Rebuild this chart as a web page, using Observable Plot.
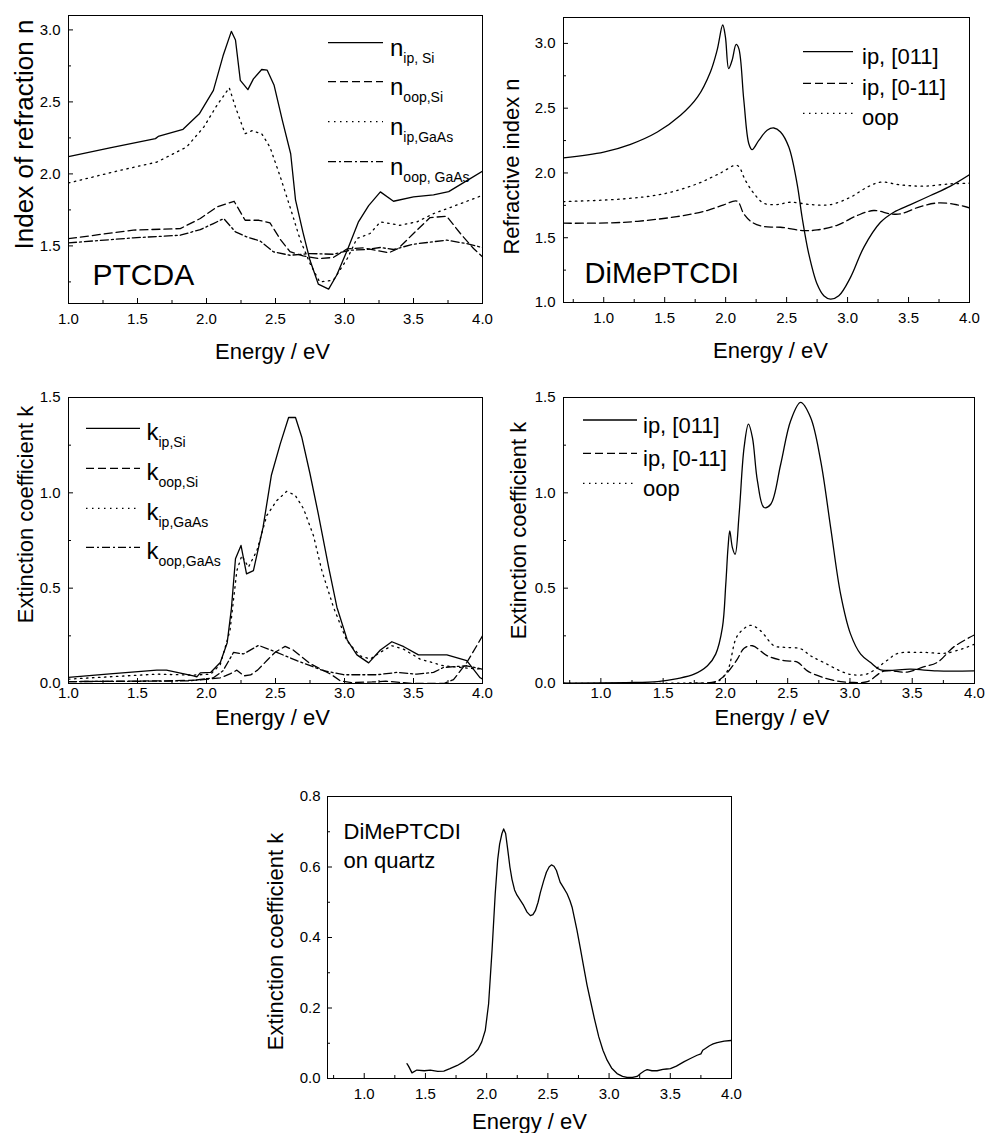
<!DOCTYPE html>
<html><head><meta charset="utf-8">
<script src="https://cdn.jsdelivr.net/npm/d3@7"></script>
<script src="https://cdn.jsdelivr.net/npm/@observablehq/plot@0.6"></script>
<style>
body{margin:0;background:#fff;}
#page{position:relative;width:988px;height:1133px;overflow:hidden;background:#fff;font-family:"Liberation Sans",Arial,sans-serif;}
.panel{position:absolute;}
#overlay{position:absolute;left:0;top:0;pointer-events:none;}
</style></head><body><div id="page"></div>
<script>
// ---------- DATA (energy in eV, value) ----------
// Panel a: PTCDA refractive index
const nIpSi = [[1.0,2.12],[1.3,2.18],[1.63,2.245],[1.65,2.26],[1.83,2.31],[1.95,2.42],[2.05,2.58],[2.12,2.82],[2.18,2.99],[2.21,2.93],[2.245,2.65],[2.30,2.585],[2.34,2.66],[2.40,2.725],[2.44,2.72],[2.49,2.615],[2.55,2.37],[2.61,2.14],[2.645,1.82],[2.70,1.59],[2.75,1.40],[2.81,1.235],[2.885,1.20],[2.945,1.30],[3.02,1.47],[3.10,1.665],[3.175,1.78],[3.26,1.875],[3.355,1.81],[3.5,1.84],[3.645,1.855],[3.755,1.877],[3.89,1.955],[4.0,2.018]];
const nOopSi = [[1.0,1.55],[1.47,1.61],[1.81,1.62],[1.955,1.69],[2.075,1.77],[2.2,1.81],[2.28,1.678],[2.38,1.678],[2.46,1.66],[2.535,1.545],[2.605,1.46],[2.70,1.43],[2.82,1.412],[2.92,1.42],[3.02,1.48],[3.14,1.486],[3.32,1.452],[3.39,1.482],[3.50,1.586],[3.62,1.697],[3.74,1.706],[3.84,1.586],[3.935,1.482],[4.0,1.424]];
const nIpGaAs = [[1.0,1.937],[1.375,2.025],[1.64,2.082],[1.855,2.186],[1.98,2.325],[2.075,2.475],[2.165,2.598],[2.21,2.464],[2.245,2.371],[2.28,2.279],[2.33,2.30],[2.40,2.279],[2.46,2.186],[2.535,1.979],[2.605,1.771],[2.68,1.54],[2.75,1.378],[2.82,1.25],[2.92,1.262],[3.02,1.412],[3.09,1.551],[3.185,1.586],[3.26,1.667],[3.40,1.643],[3.525,1.667],[3.645,1.724],[3.79,1.775],[4.0,1.851]];
const nOopGaAs = [[1.0,1.521],[1.47,1.556],[1.81,1.574],[1.955,1.613],[2.05,1.655],[2.125,1.69],[2.21,1.597],[2.29,1.563],[2.39,1.533],[2.485,1.459],[2.605,1.435],[2.75,1.447],[2.92,1.442],[3.04,1.47],[3.16,1.475],[3.26,1.489],[3.355,1.475],[3.5,1.512],[3.74,1.54],[3.885,1.516],[4.0,1.489]];

// Panel b: DiMePTCDI refractive index
const nIp011 = [[0.67,2.117],[1.0,2.161],[1.22,2.221],[1.44,2.316],[1.63,2.445],[1.77,2.587],[1.875,2.78],[1.93,2.948],[1.976,3.142],[1.998,3.05],[2.025,2.806],[2.053,2.87],[2.086,2.992],[2.108,2.96],[2.149,2.561],[2.19,2.226],[2.217,2.18],[2.272,2.252],[2.34,2.329],[2.395,2.347],[2.45,2.316],[2.518,2.20],[2.586,1.916],[2.627,1.658],[2.682,1.374],[2.75,1.142],[2.805,1.052],[2.86,1.026],[2.928,1.052],[3.024,1.194],[3.133,1.426],[3.27,1.619],[3.379,1.697],[3.516,1.756],[3.68,1.826],[3.844,1.898],[4.0,1.986]];
const nIp0m11 = [[0.67,1.612],[1.164,1.619],[1.60,1.663],[1.848,1.71],[1.985,1.754],[2.094,1.782],[2.149,1.684],[2.217,1.619],[2.313,1.586],[2.45,1.581],[2.64,1.555],[2.75,1.56],[2.914,1.596],[3.078,1.671],[3.215,1.71],[3.352,1.684],[3.434,1.684],[3.598,1.741],[3.748,1.769],[3.899,1.754],[4.0,1.73]];
const nOop = [[0.67,1.779],[1.164,1.80],[1.492,1.839],[1.766,1.916],[1.957,1.999],[2.094,2.058],[2.162,1.942],[2.23,1.844],[2.313,1.766],[2.422,1.756],[2.531,1.774],[2.696,1.756],[2.86,1.756],[3.024,1.813],[3.16,1.89],[3.27,1.929],[3.434,1.908],[3.625,1.898],[3.844,1.916],[4.0,1.921]];

// Panel c: PTCDA extinction coefficient
const kIpSi = [[1.0,0.032],[1.3,0.05],[1.64,0.07],[1.71,0.07],[1.905,0.04],[1.93,0.035],[1.955,0.056],[2.03,0.058],[2.10,0.11],[2.15,0.214],[2.18,0.39],[2.21,0.654],[2.25,0.724],[2.29,0.575],[2.34,0.592],[2.41,0.82],[2.47,1.092],[2.535,1.258],[2.595,1.395],[2.645,1.395],[2.69,1.293],[2.75,1.10],[2.81,0.89],[2.885,0.61],[2.945,0.40],[3.02,0.228],[3.09,0.15],[3.175,0.108],[3.26,0.176],[3.343,0.219],[3.43,0.193],[3.536,0.15],[3.645,0.15],[3.742,0.15],[3.886,0.12],[3.983,0.03],[4.0,0.023]];
const kOopSi = [[1.0,0.01],[1.71,0.014],[1.95,0.018],[2.1,0.03],[2.17,0.05],[2.22,0.07],[2.27,0.04],[2.32,0.045],[2.37,0.07],[2.45,0.13],[2.5,0.165],[2.57,0.195],[2.63,0.175],[2.75,0.105],[2.9,0.049],[2.97,0.014],[3.05,0.005],[3.2,0.008],[3.3,0.012],[3.5,0.0],[3.72,0.0],[3.79,0.02],[3.886,0.11],[3.96,0.2],[4.0,0.25]];
const kIpGaAs = [[1.0,0.023],[1.64,0.049],[1.905,0.044],[2.03,0.049],[2.10,0.10],[2.17,0.277],[2.22,0.592],[2.256,0.671],[2.304,0.61],[2.365,0.697],[2.437,0.881],[2.51,0.96],[2.582,1.008],[2.643,0.987],[2.703,0.917],[2.775,0.776],[2.836,0.592],[2.92,0.40],[3.017,0.224],[3.113,0.145],[3.186,0.128],[3.258,0.163],[3.343,0.198],[3.428,0.18],[3.548,0.128],[3.717,0.093],[3.886,0.081],[4.0,0.075]];
const kOopGaAs = [[1.0,0.01],[1.6,0.012],[1.88,0.014],[2.05,0.03],[2.12,0.067],[2.196,0.163],[2.268,0.155],[2.377,0.2],[2.51,0.163],[2.655,0.12],[2.848,0.067],[2.993,0.046],[3.235,0.046],[3.38,0.058],[3.525,0.049],[3.645,0.058],[3.717,0.084],[3.886,0.093],[4.0,0.075]];

// Panel d: DiMePTCDI extinction coefficient
const kIp011 = [[0.70,0.002],[1.2,0.005],[1.455,0.01],[1.615,0.026],[1.749,0.049],[1.856,0.093],[1.922,0.154],[1.976,0.294],[2.003,0.521],[2.021,0.713],[2.035,0.80],[2.056,0.713],[2.078,0.678],[2.11,0.888],[2.15,1.238],[2.185,1.36],[2.217,1.29],[2.257,1.063],[2.31,0.923],[2.364,0.94],[2.444,1.15],[2.524,1.378],[2.604,1.474],[2.684,1.395],[2.765,1.168],[2.845,0.818],[2.925,0.469],[3.005,0.259],[3.086,0.154],[3.166,0.11],[3.246,0.072],[3.487,0.075],[3.70,0.066],[4.0,0.066]];
const kIp0m11 = [[0.70,0.0],[1.72,0.0],[1.936,0.014],[2.016,0.058],[2.096,0.128],[2.15,0.185],[2.217,0.198],[2.337,0.145],[2.47,0.12],[2.578,0.112],[2.658,0.066],[2.79,0.03],[2.925,0.01],[3.005,0.006],[3.14,0.01],[3.273,0.065],[3.46,0.06],[3.59,0.087],[3.70,0.11],[3.834,0.192],[4.0,0.255]];
const kOop = [[0.70,0.0],[1.72,0.003],[1.936,0.01],[2.016,0.066],[2.096,0.25],[2.203,0.305],[2.283,0.276],[2.39,0.198],[2.47,0.19],[2.604,0.182],[2.684,0.145],[2.79,0.11],[2.95,0.058],[3.032,0.045],[3.14,0.051],[3.30,0.122],[3.38,0.157],[3.59,0.163],[3.78,0.16],[4.0,0.206]];

// Panel e: DiMePTCDI on quartz
const kQuartz = [[1.349,0.042],[1.362,0.035],[1.39,0.016],[1.43,0.024],[1.49,0.022],[1.54,0.024],[1.60,0.02],[1.65,0.021],[1.70,0.028],[1.76,0.037],[1.81,0.047],[1.86,0.06],[1.894,0.069],[1.93,0.083],[1.96,0.104],[1.989,0.137],[2.016,0.212],[2.044,0.363],[2.07,0.524],[2.09,0.62],[2.106,0.665],[2.125,0.695],[2.139,0.708],[2.155,0.695],[2.172,0.65],[2.19,0.6],[2.207,0.565],[2.228,0.535],[2.248,0.52],[2.302,0.491],[2.33,0.472],[2.357,0.462],[2.378,0.465],[2.398,0.476],[2.42,0.5],[2.439,0.528],[2.465,0.56],[2.488,0.585],[2.51,0.6],[2.529,0.606],[2.55,0.602],[2.57,0.59],[2.60,0.557],[2.63,0.54],[2.657,0.524],[2.68,0.505],[2.698,0.486],[2.72,0.45],[2.738,0.42],[2.765,0.37],[2.793,0.316],[2.82,0.265],[2.847,0.222],[2.88,0.17],[2.916,0.118],[2.95,0.08],[2.984,0.052],[3.02,0.03],[3.065,0.014],[3.11,0.006],[3.147,0.003],[3.19,0.003],[3.229,0.006],[3.26,0.015],[3.29,0.022],[3.311,0.025],[3.35,0.022],[3.392,0.022],[3.44,0.026],[3.47,0.027],[3.501,0.028],[3.55,0.035],[3.61,0.047],[3.66,0.056],[3.719,0.066],[3.75,0.07],[3.765,0.08],[3.787,0.085],[3.82,0.093],[3.85,0.098],[3.883,0.102],[3.94,0.106],[4.0,0.108]];

// tick values
const xTicksA = [1.0,1.5,2.0,2.5,3.0,3.5,4.0];
const xMinorA = [1.25,1.75,2.25,2.75,3.25,3.75];
const xTicksB = [1.0,1.5,2.0,2.5,3.0,3.5,4.0];
const xMinorB = [0.75,1.25,1.75,2.25,2.75,3.25,3.75];
const yTicksNa = [1.5,2.0,2.5,3.0];
const yMinorNa = [1.25,1.75,2.25,2.75];
const yTicksNb = [1.0,1.5,2.0,2.5,3.0];
const yMinorNb = [1.25,1.75,2.25,2.75];
const yTicksK = [0.0,0.5,1.0,1.5];
const yMinorK = [0.25,0.75,1.25];
const yTicksQ = [0.0,0.2,0.4,0.6,0.8];
const yMinorQ = [0.1,0.3,0.5,0.7];

// legend labels
const legendA = [["n","ip, Si"],["n","oop,Si"],["n","ip,GaAs"],["n","oop, GaAs"]];
const legendB = ["ip, [011]","ip, [0-11]","oop"];
const legendC = [["k","ip,Si"],["k","oop,Si"],["k","ip,GaAs"],["k","oop,GaAs"]];

// ---------- STYLE ----------
const SOLID = null, DASH = "8,4", DOT = "1.5,4.5", DASHDOT = "8,3,2,3";
const FONT = "'Liberation Sans', Arial, sans-serif";
const TICKFONT = 15;

const page = document.getElementById("page");

function panel(o) {
  const W = o.width, H = o.height;
  const fw = W - o.ml - o.mr, fh = H - o.mt - o.mb;
  const fmt = d3.format(".1f");
  const marks = [];
  for (const s of o.series) {
    marks.push(Plot.line(s.data, {x: d => d[0], y: d => d[1], stroke: "black", strokeWidth: 1.3,
      strokeDasharray: s.dash || undefined, curve: o.curve || "linear", clip: true}));
  }
  marks.push(
    Plot.tickX(o.xMajor, {x: d => d, stroke: "black", insetTop: fh - 5}),
    Plot.tickX(o.xMinor, {x: d => d, stroke: "black", insetTop: fh - 3}),
    Plot.tickY(o.yMajor, {y: d => d, stroke: "black", insetRight: fw - 5}),
    Plot.tickY(o.yMinor, {y: d => d, stroke: "black", insetRight: fw - 3}),
    Plot.axisX(o.xMajor, {tickSize: 0, tickPadding: o.xPad, tickFormat: fmt, label: null, fontSize: TICKFONT}),
    Plot.axisY(o.yMajor, {tickSize: 0, tickPadding: o.yPad, tickFormat: fmt, label: null, fontSize: TICKFONT}),
    Plot.frame({stroke: "black", strokeWidth: 1}),
    Plot.text([o.xTitle], {frameAnchor: "bottom", dx: o.xtDx, dy: o.xtDy, fontSize: 22, lineAnchor: "middle", textAnchor: "middle"}),
    Plot.text([o.yTitle], {frameAnchor: "left", rotate: -90, dx: o.ytDx, dy: o.ytDy, fontSize: o.ytSize || 22, lineAnchor: "middle", textAnchor: "middle"})
  );
  if (o.label) marks.push(Plot.text([o.label], {frameAnchor: o.labelAnchor, dx: o.labelDx, dy: o.labelDy,
    fontSize: o.labelSize, textAnchor: "start", lineAnchor: "top", lineHeight: o.labelLH || 1}));
  const chart = Plot.plot({
    width: W, height: H, marginTop: o.mt, marginRight: o.mr, marginBottom: o.mb, marginLeft: o.ml,
    x: {domain: o.xDomain}, y: {domain: o.yDomain},
    style: {fontFamily: FONT, fontSize: TICKFONT + "px", color: "black", background: "transparent", overflow: "visible"},
    marks
  });
  const div = document.createElement("div");
  div.className = "panel";
  div.style.left = o.left + "px"; div.style.top = o.top + "px";
  div.appendChild(chart);
  page.appendChild(div);
}

panel({left: 0, top: 0, width: 490, height: 365, mt: 15, mr: 8, mb: 62, ml: 68,
  xDomain: [1, 4], yDomain: [1.1, 3.1], xMajor: xTicksA, xMinor: xMinorA, yMajor: yTicksNa, yMinor: yMinorNa,
  xPad: 10, yPad: 8, curve: "linear",
  series: [{data: nIpSi, dash: SOLID}, {data: nOopSi, dash: DASH}, {data: nIpGaAs, dash: DOT}, {data: nOopGaAs, dash: DASHDOT}],
  xTitle: "Energy / eV", xtDx: -3, xtDy: 48,
  yTitle: "Index of refraction n", ytDx: -43.5, ytDy: -25, ytSize: 26,
  label: "PTCDA", labelAnchor: "bottom-left", labelDx: 24, labelDy: -40, labelSize: 30});

panel({left: 490, top: 0, width: 498, height: 365, mt: 17, mr: 19, mb: 63, ml: 73,
  xDomain: [0.67, 4], yDomain: [1.0, 3.2], xMajor: xTicksB, xMinor: xMinorB, yMajor: yTicksNb, yMinor: yMinorNb,
  xPad: 10, yPad: 8, curve: "catmull-rom",
  series: [{data: nIp011, dash: SOLID}, {data: nIp0m11, dash: DASH}, {data: nOop, dash: DOT}],
  xTitle: "Energy / eV", xtDx: 4, xtDy: 48,
  yTitle: "Refractive index n", ytDx: -52, ytDy: 6.5,
  label: "DiMePTCDI", labelAnchor: "bottom-left", labelDx: 21, labelDy: -40, labelSize: 29});

panel({left: 0, top: 380, width: 490, height: 360, mt: 17, mr: 8, mb: 57, ml: 68,
  xDomain: [1, 4], yDomain: [0, 1.5], xMajor: xTicksA, xMinor: xMinorA, yMajor: yTicksK, yMinor: yMinorK,
  xPad: 4, yPad: 8, curve: "linear",
  series: [{data: kIpSi, dash: SOLID}, {data: kOopSi, dash: DASH}, {data: kIpGaAs, dash: DOT}, {data: kOopGaAs, dash: DASHDOT}],
  xTitle: "Energy / eV", xtDx: -3, xtDy: 34,
  yTitle: "Extinction coefficient k", ytDx: -43, ytDy: -26});

panel({left: 490, top: 380, width: 498, height: 360, mt: 17, mr: 14, mb: 57, ml: 73,
  xDomain: [0.7, 4], yDomain: [0, 1.5], xMajor: xTicksB, xMinor: xMinorB, yMajor: yTicksK, yMinor: yMinorK,
  xPad: 4, yPad: 8, curve: "catmull-rom",
  series: [{data: kIp011, dash: SOLID}, {data: kIp0m11, dash: DASH}, {data: kOop, dash: DOT}],
  xTitle: "Energy / eV", xtDx: 3, xtDy: 34,
  yTitle: "Extinction coefficient k", ytDx: -45, ytDy: -10});

panel({left: 250, top: 760, width: 500, height: 373, mt: 36, mr: 19, mb: 55, ml: 77,
  xDomain: [0.7, 4], yDomain: [0, 0.8], xMajor: xTicksB, xMinor: xMinorB, yMajor: yTicksQ, yMinor: yMinorQ,
  xPad: 10, yPad: 7, curve: "linear",
  series: [{data: kQuartz, dash: SOLID}],
  xTitle: "Energy / eV", xtDx: 0, xtDy: 43,
  yTitle: "Extinction coefficient k", ytDx: -52, ytDy: 4,
  label: "DiMePTCDI\non quartz", labelAnchor: "top-left", labelDx: 16, labelDy: 22, labelSize: 22, labelLH: 1.32});

// ---------- LEGENDS (overlay) ----------
const ns = "http://www.w3.org/2000/svg";
const ov = document.createElementNS(ns, "svg");
ov.setAttribute("id", "overlay"); ov.setAttribute("width", 988); ov.setAttribute("height", 1133);
ov.style.fontFamily = FONT;
page.appendChild(ov);
function el(tag, attrs, parent) {
  const e = document.createElementNS(ns, tag);
  for (const k in attrs) e.setAttribute(k, attrs[k]);
  (parent || ov).appendChild(e); return e;
}
function sample(x1, x2, y, dash) {
  const a = {x1, x2, y1: y, y2: y, stroke: "black", "stroke-width": 1.3};
  if (dash) a["stroke-dasharray"] = dash;
  el("line", a);
}
function subLegend(items, x1, x2, tx, rows, dashes, mainSize, baseOff, subSize, subShift) {
  items.forEach(([m, s], i) => {
    sample(x1, x2, rows[i], dashes[i]);
    const t = el("text", {x: tx, y: rows[i] + baseOff, "font-size": mainSize, fill: "black"});
    t.textContent = m;
    const sp = el("tspan", {"font-size": subSize, dy: subShift}, t);
    sp.textContent = s;
  });
}
function plainLegend(items, x1, x2, tx, rows, dashes, size, baseOff) {
  items.forEach((s, i) => {
    sample(x1, x2, rows[i], dashes[i]);
    const t = el("text", {x: tx, y: rows[i] + baseOff, "font-size": size, fill: "black"});
    t.textContent = s;
  });
}
const dashesA = [SOLID, DASH, DOT, DASHDOT];
const dashesB = [SOLID, DASH, DOT];
subLegend(legendA, 328, 383, 390, [42.7, 81.7, 121.7, 161.7], dashesA, 24, 13, 14, 7);
plainLegend(legendB, 803, 853, 862, [51.7, 83.3, 113.3], dashesB, 22, 12);
subLegend(legendC, 86, 140, 146.5, [428.3, 468.3, 508.3, 547.3], dashesA, 24, 12, 14, 7);
plainLegend(legendB, 583, 637, 643, [420, 453.3, 483.3], dashesB, 22, 13);
</script></body></html>
